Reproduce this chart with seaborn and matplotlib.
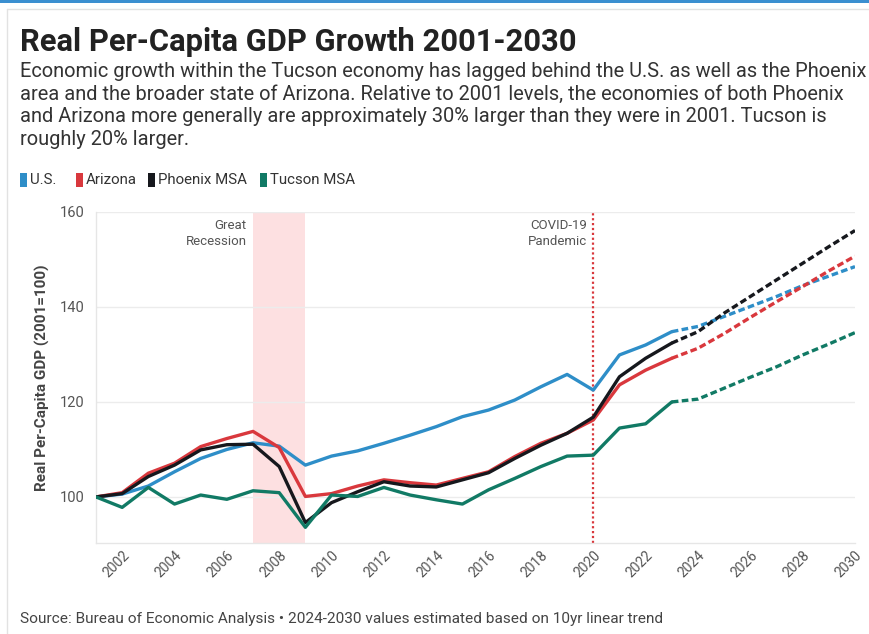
import matplotlib
matplotlib.use("Agg")
import matplotlib.pyplot as plt
from matplotlib.patches import Rectangle
from matplotlib.lines import Line2D
import seaborn as sns
import pandas as pd

# ---- data -------------------------------------------------------------
years_actual = list(range(2001, 2024))
years_proj = list(range(2023, 2031))

us_actual = [100.0, 100.6, 102.3, 105.3, 108.1, 110.0, 111.4, 110.7, 106.7, 108.6,
             109.7, 111.3, 113.0, 114.8, 116.9, 118.3, 120.4, 123.2, 125.8, 122.5,
             129.9, 132.0, 134.8]
az_actual = [100.0, 100.9, 105.0, 107.1, 110.6, 112.3, 113.8, 110.4, 100.1, 100.7,
             102.3, 103.6, 103.0, 102.5, 103.9, 105.3, 108.5, 111.3, 113.4, 116.2,
             123.6, 126.7, 129.2]
phx_actual = [100.0, 100.7, 104.3, 106.7, 109.9, 111.0, 111.1, 106.4, 94.6, 98.8,
              101.1, 103.2, 102.3, 102.1, 103.6, 105.1, 108.1, 110.9, 113.4, 116.8,
              125.3, 129.2, 132.4]
tus_actual = [100.0, 97.8, 102.0, 98.5, 100.4, 99.5, 101.3, 100.9, 93.6, 100.4,
              100.1, 102.0, 100.4, 99.4, 98.5, 101.5, 103.9, 106.4, 108.6, 108.8,
              114.5, 115.4, 120.0]

us_proj = [134.8, 135.9, 138.0, 140.1, 142.2, 144.5, 146.5, 148.5]
az_proj = [129.2, 131.3, 134.4, 137.8, 141.1, 144.3, 147.6, 150.7]
phx_proj = [132.4, 134.8, 138.7, 142.2, 145.7, 149.2, 152.7, 156.1]
tus_proj = [120.0, 120.6, 122.9, 125.2, 127.4, 129.9, 132.2, 134.6]

series_names = ["U.S.", "Arizona", "Phoenix MSA", "Tucson MSA"]
series_colors = ["#2e8ec8", "#d9383d", "#16181d", "#117a65"]

y_ticks = [100, 120, 140, 160]
x_ticks = list(range(2002, 2031, 2))

recession_span = (2007, 2009)
covid_year = 2020

# ---- long-form tables -------------------------------------------------
def long_table(years, values_by_series):
    rows = []
    for name, vals in zip(series_names, values_by_series):
        for yr, v in zip(years, vals):
            rows.append({"year": yr, "value": v, "series": name})
    return pd.DataFrame(rows)

actual = long_table(years_actual, [us_actual, az_actual, phx_actual, tus_actual])
proj = long_table(years_proj, [us_proj, az_proj, phx_proj, tus_proj])
palette = dict(zip(series_names, series_colors))

# ---- figure -----------------------------------------------------------
sns.set_theme(style="white")
plt.rcParams["font.family"] = ["Roboto", "DejaVu Sans"]

fig = plt.figure(figsize=(8.7, 6.34), dpi=100)
ax = fig.add_axes([96 / 870, 1 - 543 / 634, (855 - 96) / 870, (543 - 212) / 634])

# card frame and top accent
fig.add_artist(Rectangle((0, 1 - 3 / 634), 1, 3 / 634, transform=fig.transFigure,
                         color="#3b8fd0", lw=0, zorder=5))
fig.add_artist(Line2D([7 / 870, 7 / 870], [0, 1 - 9 / 634], transform=fig.transFigure,
                      color="#e2e2e2", lw=1))
fig.add_artist(Line2D([7 / 870, 1], [1 - 9 / 634, 1 - 9 / 634], transform=fig.transFigure,
                      color="#e2e2e2", lw=1))

# shading and markers for events
ax.axvspan(*recession_span, color="#fde0e1", lw=0, zorder=0)
ax.axvline(covid_year, color="#d9383d", lw=1.6, ls=(0, (1, 1.2)), zorder=1)

sns.lineplot(data=actual, x="year", y="value", hue="series", palette=palette,
             lw=2.4, legend=False, ax=ax, zorder=3)
sns.lineplot(data=proj, x="year", y="value", hue="series", palette=palette,
             lw=2.4, legend=False, ax=ax, zorder=3, dashes=False)
for line in ax.lines[-4:]:
    line.set_linestyle((0, (2.0, 1.0)))

ax.set_xlim(2001, 2030)
ax.set_ylim(90.3, 160)
ax.set_yticks(y_ticks)
ax.set_xticks(x_ticks)
ax.set_xticklabels([str(t) for t in x_ticks], rotation=45, ha="right",
                   rotation_mode="anchor", fontsize=10, color="#555555")
ax.set_yticklabels([str(t) for t in y_ticks], fontsize=10.5, color="#555555")
ax.tick_params(axis="x", pad=4, length=0)
ax.tick_params(axis="y", pad=8, length=0)
ax.yaxis.grid(True, color="#ececec", lw=1)
ax.set_xlabel("")
ax.set_ylabel("Real Per-Capita GDP (2001=100)", fontsize=11, fontweight="bold",
              color="#444444", labelpad=7)
for side in ["top", "right"]:
    ax.spines[side].set_visible(False)
for side in ["left", "bottom"]:
    ax.spines[side].set_color("#e6e6e6")
    ax.spines[side].set_linewidth(1)

ax.text(2006.75, 158.5, "Great\nRecession", ha="right", va="top", fontsize=9.5,
        color="#555555", linespacing=1.3)
ax.text(2019.75, 158.5, "COVID-19\nPandemic", ha="right", va="top", fontsize=9.5,
        color="#555555", linespacing=1.3)

# ---- titles and legend -----------------------------------------------
fig.text(20 / 870, 1 - 42 / 634, "Real Per-Capita GDP Growth 2001-2030", fontsize=22.2,
         fontweight="bold", color="#222222", va="center")
fig.text(20 / 870, 1 - 62 / 634,
         "Economic growth within the Tucson economy has lagged behind the U.S. as well as the Phoenix\n"
         "area and the broader state of Arizona. Relative to 2001 levels, the economies of both Phoenix\n"
         "and Arizona more generally are approximately 30% larger than they were in 2001. Tucson is\n"
         "roughly 20% larger.",
         fontsize=14.4, color="#333333", va="top", linespacing=1.245)

legend_x = [20, 76, 148, 260]
for name, color, lx in zip(series_names, series_colors, legend_x):
    fig.add_artist(Rectangle((lx / 870, 1 - 187 / 634), 7 / 870, 14 / 634,
                             transform=fig.transFigure, color=color, lw=0))
    fig.text((lx + 10) / 870, 1 - 180 / 634, name, fontsize=10.8, color="#333333",
             va="center")

fig.text(20 / 870, 1 - 619 / 634,
         "Source: Bureau of Economic Analysis \u2022 2024-2030 values estimated based on 10yr linear trend",
         fontsize=11.1, color="#444444", va="center")

fig.savefig("out.png", dpi=100)
